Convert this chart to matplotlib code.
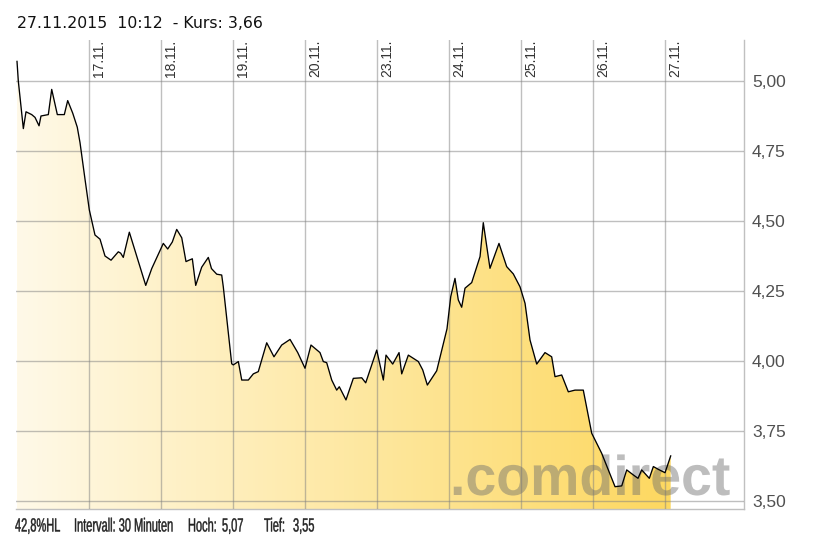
import numpy as np
import matplotlib
matplotlib.use('Agg')
import matplotlib.pyplot as plt
from matplotlib.colors import LinearSegmentedColormap
from matplotlib.textpath import TextPath
from matplotlib.patches import PathPatch
from matplotlib.font_manager import FontProperties
from matplotlib.transforms import Affine2D, ScaledTranslation

# ------------------------------------------------------------------------------
# time in trading days (0 = 17.11., 8 = 27.11.), 30 minute interval
t = [-1.000, -0.982, -0.912, -0.875, -0.796, -0.750, -0.694, -0.667, -0.565,
     -0.518, -0.440, -0.343, -0.296, -0.226, -0.163, -0.125, -0.056, 0.004,
     0.083, 0.153, 0.222, 0.306, 0.407, 0.440, 0.476, 0.560, 0.788, 0.871,
     1.032, 1.093, 1.157, 1.218, 1.288, 1.347, 1.389, 1.435, 1.482, 1.565,
     1.657, 1.701, 1.774, 1.843, 1.865, 1.982, 2.004, 2.074, 2.121, 2.213,
     2.282, 2.351, 2.468, 2.569, 2.676, 2.792, 2.899, 3.000, 3.083, 3.208,
     3.254, 3.301, 3.371, 3.440, 3.476, 3.569, 3.671, 3.788, 3.843, 3.996,
     4.088, 4.125, 4.218, 4.306, 4.343, 4.435, 4.574, 4.635, 4.699, 4.829,
     4.972, 5.024, 5.083, 5.129, 5.176, 5.222, 5.315, 5.431, 5.476, 5.569,
     5.694, 5.801, 5.893, 5.986, 6.056, 6.125, 6.218, 6.333, 6.426, 6.472,
     6.565, 6.657, 6.750, 6.865, 6.982, 7.121, 7.306, 7.399, 7.468, 7.560,
     7.625, 7.676, 7.782, 7.838, 7.907, 8.000, 8.079]
price = [5.07, 5.00, 4.83, 4.89, 4.88, 4.87, 4.84, 4.875, 4.88,
         4.97, 4.88, 4.88, 4.93, 4.885, 4.835, 4.78, 4.65, 4.54,
         4.45, 4.435, 4.375, 4.36, 4.39, 4.385, 4.37, 4.46, 4.27, 4.33,
         4.42, 4.40, 4.425, 4.47, 4.44, 4.355, 4.36, 4.365, 4.27, 4.335,
         4.37, 4.33, 4.31, 4.307, 4.265, 3.99, 3.986, 3.998, 3.932, 3.932,
         3.954, 3.962, 4.065, 4.015, 4.057, 4.077, 4.03, 3.974, 4.057, 4.03,
         3.998, 3.994, 3.932, 3.896, 3.908, 3.861, 3.938, 3.94, 3.922, 4.039,
         3.932, 4.021, 3.989, 4.03, 3.954, 4.021, 3.998, 3.968, 3.914, 3.965,
         4.115, 4.23, 4.295, 4.218, 4.192, 4.26, 4.28, 4.373, 4.494, 4.331,
         4.42, 4.337, 4.311, 4.265, 4.206, 4.075, 3.989, 4.03, 4.015, 3.944,
         3.95, 3.89, 3.896, 3.896, 3.742, 3.67, 3.551, 3.554, 3.611, 3.593,
         3.581, 3.611, 3.581, 3.623, 3.613, 3.601, 3.661]
day_ticks = [0, 1, 2, 3, 4, 5, 6, 7, 8]
day_labels = ['17.11.', '18.11.', '19.11.', '20.11.', '23.11.',
              '24.11.', '25.11.', '26.11.', '27.11.']
y_ticks = [3.50, 3.75, 4.00, 4.25, 4.50, 4.75, 5.00]

title = '27.11.2015  10:12  - Kurs: 3,66'
footer = [('42,8%HL', 15), ('Intervall: 30 Minuten', 74), ('Hoch:', 188),
          ('5,07', 222), ('Tief:', 264), ('3,55', 293)]

W, H, DPI = 831, 541, 100
XLIM = (-1.014, 9.097)
YLIM = (3.4714, 5.1464)


def px_text(where, fig, s, x, y, em, sx=1.0, color='k', weight='normal',
            alpha=1.0, zorder=5, lw=0):
    # text as path, placed in figure pixels (y from top = baseline)
    fp = FontProperties(family='Liberation Sans', weight=weight)
    path = TextPath((0, 0), s, size=em, prop=fp)
    tr = (Affine2D().scale(sx, 1).translate(x, H - y).scale(1.0 / DPI)
          + fig.dpi_scale_trans)
    patch = PathPatch(path, transform=tr, facecolor=color, edgecolor=color,
                      lw=lw, alpha=alpha, zorder=zorder)
    where.add_artist(patch)
    return patch


fig = plt.figure(figsize=(W / DPI, H / DPI), dpi=DPI)
ax = fig.add_axes([16 / W, 1 - 509 / H, (744 - 16) / W, (509 - 40) / H])
ax.set_xlim(*XLIM)
ax.set_ylim(*YLIM)

# gradient area under the line
cmap = LinearSegmentedColormap.from_list('cd', ['#fff9e8', '#fdd860'])
poly = ax.fill_between(t, price, YLIM[0], color='none', lw=0)
grad = np.linspace(0, 1, 256).reshape(1, -1)
img = ax.imshow(grad, cmap=cmap, aspect='auto', zorder=1,
                extent=[t[0], t[-1], YLIM[0], YLIM[1]], interpolation='bilinear')
img.set_clip_path(poly.get_paths()[0], transform=ax.transData)
ax.set_xlim(*XLIM)
ax.set_ylim(*YLIM)

ax.plot(t, price, color='k', lw=0.95, zorder=4)

# grid
ax.set_xticks(day_ticks)
ax.set_yticks(y_ticks)
ax.grid(True, color='#808080', alpha=0.5, lw=1.0, zorder=2)
ax.set_axisbelow(False)
for gl in ax.get_xgridlines() + ax.get_ygridlines():
    gl.set_zorder(2)

for side in ['top', 'left']:
    ax.spines[side].set_visible(False)
for side in ['right', 'bottom']:
    ax.spines[side].set_color('#c0c0c0')
    ax.spines[side].set_linewidth(1.0)

ax.yaxis.tick_right()
ax.set_yticklabels(['{:.2f}'.format(v).replace('.', ',') for v in y_ticks],
                   fontsize=12.5, color='#505050', family='Liberation Sans')
ax.tick_params(axis='y', length=0, pad=5.8)
ax.tick_params(axis='x', length=0, labelbottom=False)

# day labels on top, rotated
off = ScaledTranslation(3 / DPI, 4 / DPI, fig.dpi_scale_trans)
for d, lab in zip(day_ticks, day_labels):
    ax.text(d, 5.0, lab, rotation=90, ha='left', va='bottom',
            fontsize=10, color='#333333', family='Liberation Sans',
            transform=ax.transData + off, clip_on=False)

# watermark
px_text(ax, fig, '.comdirect', 450, 495, 56, sx=0.99, color='#6e6e6e',
        weight='bold', alpha=0.45, zorder=3)

# header / footer
fig.text(17 / W, 1 - 24 / H, title, fontsize=11.3, family='DejaVu Sans',
         va='center', ha='left', color='#111111')
for s, x in footer:
    px_text(fig, fig, s, x, 531.5, 19.0, sx=0.58, color='#222222', lw=0.3)

plt.savefig('out.png', dpi=DPI)
